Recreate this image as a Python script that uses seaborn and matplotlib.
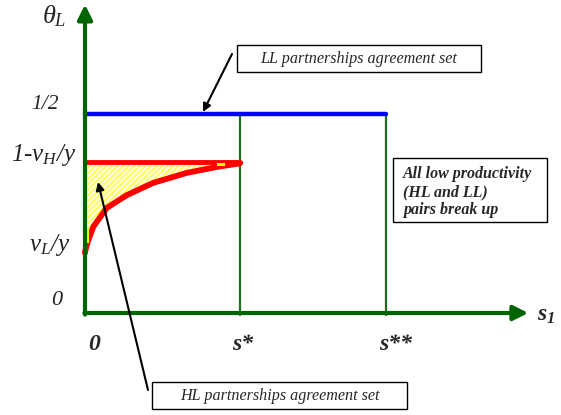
import numpy as np
import seaborn as sns
import matplotlib.pyplot as plt
from matplotlib.patches import Rectangle

# data (s in units of s*, theta_L in natural units)
s_star = 1.0
s_dstar = 1.94
theta_half = 0.5
theta_top = 0.379      # 1 - vH/y
curve_s = [0.0, 0.003, 0.017, 0.054, 0.14, 0.269, 0.44, 0.656, 0.85, 1.0]
curve_theta = [0.151, 0.158, 0.178, 0.217, 0.264, 0.296, 0.327, 0.352, 0.367, 0.376]
x_ticks = [0.0, s_star, s_dstar]
x_labels = ["0", "s*", "s**"]

sns.set_style("white")
plt.rcParams['font.family'] = ['Liberation Serif', 'DejaVu Serif']
plt.rcParams['mathtext.fontset'] = 'custom'
plt.rcParams['mathtext.it'] = 'Liberation Serif:italic'
plt.rcParams['mathtext.rm'] = 'Liberation Serif'
plt.rcParams['mathtext.bf'] = 'Liberation Serif:italic:bold'
plt.rcParams['hatch.linewidth'] = 0.6

fig = plt.figure(figsize=(5.61, 4.15), dpi=100)
ax = fig.add_axes([0, 0, 1, 1])
ax.set_xlim(-85 / 155, 476 / 155)
ax.set_ylim(-102 / 398, 313 / 398)
ax.axis('off')


def P(x, y):
    # pixel position -> data position (layout helper)
    return ((x - 85) / 155, (313 - y) / 398)


green = '#006400'

# agreement sets
ax.fill_between(curve_s, curve_theta, theta_top, facecolor='#ffffd0',
                hatch='//////', edgecolor='#ffff00', linewidth=0, zorder=1)
sns.lineplot(x=[0, s_dstar], y=[theta_half, theta_half], color='#0000ff',
             lw=3.2, ax=ax, zorder=4)
sns.lineplot(x=[0, s_star], y=[theta_top, theta_top], color='#ff0000',
             lw=3.5, ax=ax, zorder=4)
sns.lineplot(x=curve_s, y=curve_theta, color='#ff0000', lw=4.2, ax=ax,
             sort=False, zorder=4)
# small yellow marks on the set
for (bx, by), bw, bh in [((86, 228), 3, 15), ((217, 163), 8, 3)]:
    x0, y0 = P(bx, by + bh)
    ax.add_patch(Rectangle((x0, y0), bw / 155, bh / 398, fc='#ffff00',
                           ec='none', zorder=5))

# vertical thresholds
for sv in [s_star, s_dstar]:
    ax.plot([sv, sv], [-0.006, theta_half], color='#1f6e1f', lw=1.6, zorder=3)

# axes with arrows
ax.annotate('', xy=(0, 0.775), xytext=(0, -0.004),
            arrowprops=dict(arrowstyle='-|>', color=green, lw=3,
                            mutation_scale=22, shrinkA=0, shrinkB=0), zorder=5)
ax.annotate('', xy=(2.86, 0), xytext=(-0.004, 0),
            arrowprops=dict(arrowstyle='-|>', color=green, lw=3,
                            mutation_scale=22, shrinkA=0, shrinkB=0), zorder=5)

# axis labels
ax.text(*P(54, 16), r'$\theta_L$', fontsize=19, ha='center', va='center')
ax.text(*P(546, 315), r'$\mathbf{s}_\mathbf{1}$', fontsize=17,
        ha='center', va='center')
ax.text(*P(45, 104), '1/2', fontsize=15.5, style='italic', ha='center', va='center')
ax.text(*P(44, 155), r'1-$v_H$/y', fontsize=18, style='italic', ha='center', va='center')
ax.text(*P(50, 245), r'$v_L$/y', fontsize=18, style='italic', ha='center', va='center')
ax.text(*P(57, 300), '0', fontsize=16, style='italic', ha='center', va='center')
for xv, lab, off in zip(x_ticks, x_labels, [3, -8, -7]):
    ax.text(xv + off / 155, P(0, 344)[1], lab, fontsize=17,
            style='italic', fontweight='bold', ha='left', va='center')

# text boxes
boxes = [((237, 45), 244, 27), ((152, 382), 255, 27), ((393, 158), 154, 64)]
for (bx, by), bw, bh in boxes:
    x0, y0 = P(bx, by + bh)
    ax.add_patch(Rectangle((x0, y0), bw / 155, bh / 398, fc='white',
                           ec='black', lw=1, zorder=6))
ax.text(*P(359, 59), 'LL partnerships agreement set', fontsize=11.6,
        style='italic', ha='center', va='center', zorder=7)
ax.text(*P(280, 396), 'HL partnerships agreement set', fontsize=11.6,
        style='italic', ha='center', va='center', zorder=7)
ax.text(*P(403, 192), 'All low productivity\n(HL and LL)\npairs break up',
        fontsize=11.5, style='italic', fontweight='bold', ha='left',
        va='center', linespacing=1.15, zorder=7)

# pointer arrows
ax.annotate('', xy=P(203, 112), xytext=P(232, 54),
            arrowprops=dict(arrowstyle='-|>', color='black', lw=1.5,
                            mutation_scale=12, shrinkA=0, shrinkB=0), zorder=6)
ax.annotate('', xy=P(98, 182), xytext=P(148, 390),
            arrowprops=dict(arrowstyle='-|>', color='black', lw=1.5,
                            mutation_scale=12, shrinkA=0, shrinkB=0), zorder=6)

fig.savefig('out.png', dpi=100)
